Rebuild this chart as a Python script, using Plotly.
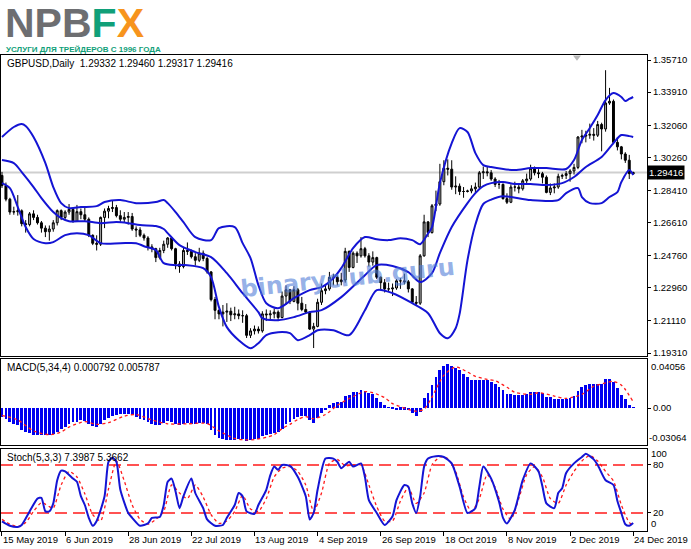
import plotly.graph_objects as go

# ---------------- price data (GBPUSD Daily) ----------------
opens = [1.2925, 1.2868, 1.2792, 1.2720, 1.2722, 1.2727, 1.2655, 1.2650, 1.2710, 1.2690,
         1.2660, 1.2630, 1.2610, 1.2625, 1.2660, 1.2728, 1.2690, 1.2720, 1.2735, 1.2668,
         1.2722, 1.2705, 1.2680, 1.2590, 1.2545, 1.2540, 1.2690, 1.2725, 1.2740, 1.2745,
         1.2700, 1.2680, 1.2690, 1.2695, 1.2625, 1.2620, 1.2590, 1.2575, 1.2525, 1.2515,
         1.2465, 1.2505, 1.2540, 1.2575, 1.2515, 1.2430, 1.2415, 1.2505, 1.2500, 1.2470,
         1.2450, 1.2490, 1.2460, 1.2385, 1.2230, 1.2170, 1.2150, 1.2160, 1.2165, 1.2145,
         1.2150, 1.2140, 1.2140, 1.2030, 1.2055, 1.2065, 1.2055, 1.2150, 1.2145, 1.2150,
         1.2160, 1.2130, 1.2250, 1.2285, 1.2220, 1.2285, 1.2210, 1.2175, 1.2160, 1.2065,
         1.2080, 1.2215, 1.2280, 1.2290, 1.2355, 1.2355, 1.2330, 1.2340, 1.2500, 1.2410,
         1.2490, 1.2475, 1.2515, 1.2475, 1.2440, 1.2465, 1.2355, 1.2325, 1.2290, 1.2290,
         1.2295, 1.2335, 1.2335, 1.2330, 1.2290, 1.2215, 1.2210, 1.2475, 1.2665, 1.2605,
         1.2755, 1.2765, 1.2890, 1.2965, 1.2960, 1.2860, 1.2865, 1.2835, 1.2835, 1.2838,
         1.2850, 1.2860, 1.2940, 1.2945, 1.2940, 1.2905, 1.2875, 1.2875, 1.2795, 1.2775,
         1.2860, 1.2860, 1.2850, 1.2895, 1.2905, 1.2965, 1.2940, 1.2935, 1.2915, 1.2830,
         1.2855, 1.2860, 1.2920, 1.2925, 1.2935, 1.2950, 1.2970, 1.3140, 1.3145, 1.3150,
         1.3155, 1.3150, 1.3210, 1.3185, 1.3330, 1.3340, 1.3110, 1.3085, 1.3045, 1.3010,
         1.29332]
highs = [1.2945, 1.2885, 1.2800, 1.2750, 1.2815, 1.2735, 1.2675, 1.2720, 1.2730, 1.2705,
         1.2670, 1.2645, 1.2645, 1.2675, 1.2735, 1.2735, 1.2730, 1.2765, 1.2740, 1.2760,
         1.2740, 1.2745, 1.2690, 1.2595, 1.2590, 1.2695, 1.2740, 1.2755, 1.2785, 1.2760,
         1.2730, 1.2720, 1.2720, 1.2715, 1.2640, 1.2635, 1.2600, 1.2585, 1.2540, 1.2520,
         1.2520, 1.2560, 1.2580, 1.2580, 1.2520, 1.2445, 1.2520, 1.2550, 1.2510, 1.2490,
         1.2520, 1.2505, 1.2470, 1.2390, 1.2245, 1.2175, 1.2200, 1.2210, 1.2185, 1.2190,
         1.2175, 1.2170, 1.2150, 1.2070, 1.2085, 1.2080, 1.2165, 1.2175, 1.2170, 1.2180,
         1.2170, 1.2275, 1.2310, 1.2290, 1.2305, 1.2295, 1.2245, 1.2205, 1.2165, 1.2100,
         1.2235, 1.2320, 1.2315, 1.2385, 1.2375, 1.2365, 1.2380, 1.2520, 1.2505, 1.2500,
         1.2500, 1.2580, 1.2525, 1.2490, 1.2500, 1.2470, 1.2360, 1.2345, 1.2325, 1.2320,
         1.2345, 1.2350, 1.2375, 1.2340, 1.2295, 1.2250, 1.2485, 1.2705, 1.2670, 1.2765,
         1.2840, 1.2990, 1.3010, 1.3015, 1.3010, 1.2920, 1.2880, 1.2860, 1.2845, 1.2870,
         1.2885, 1.2950, 1.2975, 1.2975, 1.2955, 1.2915, 1.2900, 1.2880, 1.2825, 1.2875,
         1.2890, 1.2880, 1.2905, 1.2935, 1.2985, 1.2975, 1.2960, 1.2945, 1.2925, 1.2880,
         1.2880, 1.2935, 1.2935, 1.2950, 1.2960, 1.2990, 1.3145, 1.3180, 1.3175, 1.3215,
         1.3190, 1.3230, 1.3220, 1.3514, 1.3415, 1.3350, 1.3140, 1.3090, 1.3055, 1.3040,
         1.29460]
lows = [1.2855, 1.2780, 1.2705, 1.2705, 1.2700, 1.2640, 1.2605, 1.2640, 1.2675, 1.2650,
        1.2605, 1.2580, 1.2560, 1.2610, 1.2645, 1.2675, 1.2680, 1.2705, 1.2660, 1.2665,
        1.2680, 1.2665, 1.2580, 1.2535, 1.2505, 1.2530, 1.2630, 1.2685, 1.2720, 1.2690,
        1.2665, 1.2660, 1.2650, 1.2615, 1.2580, 1.2580, 1.2560, 1.2505, 1.2495, 1.2440,
        1.2455, 1.2490, 1.2520, 1.2505, 1.2400, 1.2380, 1.2405, 1.2480, 1.2460, 1.2420,
        1.2440, 1.2445, 1.2375, 1.2220, 1.2120, 1.2120, 1.2080, 1.2105, 1.2110, 1.2120,
        1.2120, 1.2100, 1.2015, 1.2015, 1.2035, 1.2040, 1.2045, 1.2110, 1.2120, 1.2125,
        1.2110, 1.2125, 1.2200, 1.2205, 1.2215, 1.2170, 1.2165, 1.2150, 1.2060, 1.1959,
        1.2075, 1.2200, 1.2260, 1.2280, 1.2310, 1.2310, 1.2310, 1.2325, 1.2385, 1.2405,
        1.2435, 1.2465, 1.2465, 1.2415, 1.2420, 1.2345, 1.2285, 1.2270, 1.2275, 1.2250,
        1.2285, 1.2290, 1.2315, 1.2270, 1.2205, 1.2195, 1.2200, 1.2470, 1.2580, 1.2600,
        1.2725, 1.2755, 1.2870, 1.2925, 1.2845, 1.2820, 1.2815, 1.2800, 1.2830, 1.2825,
        1.2825, 1.2850, 1.2905, 1.2920, 1.2895, 1.2860, 1.2850, 1.2790, 1.2765, 1.2770,
        1.2835, 1.2825, 1.2840, 1.2880, 1.2895, 1.2925, 1.2910, 1.2880, 1.2825, 1.2815,
        1.2825, 1.2850, 1.2905, 1.2905, 1.2890, 1.2930, 1.2960, 1.3105, 1.3110, 1.3130,
        1.3120, 1.3140, 1.3060, 1.3170, 1.3320, 1.3100, 1.3065, 1.3015, 1.2995, 1.2905,
        1.29317]
closes = [1.2868, 1.2792, 1.2720, 1.2722, 1.2727, 1.2655, 1.2650, 1.2710, 1.2690, 1.2660,
          1.2630, 1.2610, 1.2625, 1.2660, 1.2728, 1.2690, 1.2720, 1.2735, 1.2668, 1.2722,
          1.2705, 1.2680, 1.2590, 1.2545, 1.2540, 1.2690, 1.2725, 1.2740, 1.2745, 1.2700,
          1.2680, 1.2690, 1.2695, 1.2625, 1.2620, 1.2590, 1.2575, 1.2525, 1.2515, 1.2465,
          1.2505, 1.2540, 1.2575, 1.2515, 1.2430, 1.2415, 1.2505, 1.2500, 1.2470, 1.2450,
          1.2490, 1.2460, 1.2385, 1.2230, 1.2170, 1.2150, 1.2160, 1.2165, 1.2145, 1.2150,
          1.2140, 1.2140, 1.2030, 1.2055, 1.2065, 1.2055, 1.2150, 1.2145, 1.2150, 1.2160,
          1.2130, 1.2250, 1.2285, 1.2220, 1.2285, 1.2210, 1.2175, 1.2160, 1.2065, 1.2080,
          1.2215, 1.2280, 1.2290, 1.2355, 1.2355, 1.2330, 1.2340, 1.2500, 1.2410, 1.2490,
          1.2475, 1.2515, 1.2475, 1.2440, 1.2465, 1.2355, 1.2325, 1.2290, 1.2290, 1.2295,
          1.2335, 1.2335, 1.2330, 1.2290, 1.2215, 1.2210, 1.2475, 1.2665, 1.2605, 1.2755,
          1.2765, 1.2890, 1.2965, 1.2960, 1.2860, 1.2865, 1.2835, 1.2835, 1.2838, 1.2850,
          1.2860, 1.2940, 1.2945, 1.2940, 1.2905, 1.2875, 1.2875, 1.2795, 1.2775, 1.2860,
          1.2860, 1.2850, 1.2895, 1.2905, 1.2965, 1.2940, 1.2935, 1.2915, 1.2830, 1.2855,
          1.2860, 1.2920, 1.2925, 1.2935, 1.2950, 1.2970, 1.3140, 1.3145, 1.3150, 1.3155,
          1.3150, 1.3210, 1.3185, 1.3330, 1.3340, 1.3110, 1.3085, 1.3045, 1.3010, 1.2935,
          1.29416]

# Bollinger bands (at sample bars)
upper_idx = [0, 3, 5, 6, 8, 11, 13, 15, 17, 20, 24, 26, 30, 34, 39, 41, 42, 44, 46, 49,
             53, 55, 59, 61, 63, 65, 67, 70, 74, 78, 81, 84, 86, 89, 92, 95, 98, 101, 104, 106,
             108, 109, 111, 114, 116, 118, 120, 122, 124, 130, 134, 138, 143, 145, 147, 149,
             151, 153, 155, 157, 158, 159, 160]
upper_val = [1.3140, 1.3196, 1.3213, 1.3202, 1.3140, 1.2994, 1.2860, 1.2770, 1.2742, 1.2748,
             1.2753, 1.2776, 1.2787, 1.2770, 1.2776, 1.2787, 1.2770, 1.2720, 1.2664, 1.2580,
             1.2563, 1.2630, 1.2636, 1.2546, 1.2462, 1.2311, 1.2210, 1.2182, 1.2238, 1.2283,
             1.2300, 1.2350, 1.2406, 1.2518, 1.2580, 1.2568, 1.2563, 1.2574, 1.2563, 1.2540,
             1.2600, 1.2636, 1.2882, 1.3106, 1.3190, 1.3168, 1.3050, 1.2983, 1.2972, 1.2955,
             1.2966, 1.2966, 1.2961, 1.3011, 1.3123, 1.3190, 1.3263, 1.3347, 1.3386, 1.3364,
             1.3341, 1.3353, 1.3364]
mid_idx = [0, 3, 5, 8, 10, 13, 15, 17, 21, 25, 29, 32, 35, 39, 41, 42, 45, 49, 53, 57,
           61, 65, 66, 70, 74, 78, 81, 86, 92, 95, 99, 103, 106, 109, 111, 114, 118, 120, 122, 124,
           127, 130, 134, 138, 142, 145, 148, 152, 155, 157, 159, 160]
mid_val = [1.3011, 1.2994, 1.2944, 1.2860, 1.2798, 1.2720, 1.2686, 1.2669, 1.2669, 1.2658,
           1.2664, 1.2658, 1.2647, 1.2642, 1.2625, 1.2602, 1.2535, 1.2496, 1.2468, 1.2378,
           1.2266, 1.2160, 1.2126, 1.2115, 1.2132, 1.2160, 1.2171, 1.2244, 1.2367, 1.2423,
           1.2418, 1.2384, 1.2328, 1.2378, 1.2490, 1.2636, 1.2770, 1.2826, 1.2865, 1.2882,
           1.2888, 1.2877, 1.2877, 1.2871, 1.2882, 1.2916, 1.2972, 1.3028, 1.3106, 1.3151,
           1.3145, 1.3140]
lower_idx = [0, 2, 4, 6, 8, 11, 13, 16, 19, 22, 25, 30, 34, 36, 39, 41, 44, 47, 51, 53,
             55, 57, 60, 63, 65, 67, 70, 73, 75, 78, 80, 84, 88, 92, 95, 99, 104, 108, 111, 113,
             115, 116, 118, 120, 122, 124, 127, 134, 141, 143, 146, 147, 149, 152, 154, 156, 157,
             159, 160]
lower_val = [1.2882, 1.2854, 1.2748, 1.2636, 1.2569, 1.2546, 1.2552, 1.2591, 1.2602, 1.2591,
             1.2546, 1.2546, 1.2546, 1.2529, 1.2507, 1.2434, 1.2423, 1.2423, 1.2406, 1.2356,
             1.2188, 1.2076, 1.2003, 1.1958, 1.1986, 1.2031, 1.2048, 1.2042, 1.2003, 1.2031,
             1.2059, 1.2059, 1.2031, 1.2171, 1.2283, 1.2266, 1.2210, 1.2154, 1.2042, 1.2014,
             1.2070, 1.2150, 1.2451, 1.2650, 1.2765, 1.2790, 1.2809, 1.2787, 1.2787, 1.2826,
             1.2854, 1.2804, 1.2770, 1.2770, 1.2804, 1.2832, 1.2888, 1.2955, 1.2927]

# MACD(5,34,4): main histogram per bar, signal sampled
macd_main = [-0.0083, -0.0098, -0.0129, -0.0144, -0.0159, -0.0205, -0.0220, -0.0230, -0.0245, -0.0245,
             -0.0251, -0.0251, -0.0245, -0.0236, -0.0220, -0.0190, -0.0174, -0.0144, -0.0129, -0.0129,
             -0.0113, -0.0122, -0.0144, -0.0165, -0.0174, -0.0144, -0.0113, -0.0092, -0.0073, -0.0061,
             -0.0055, -0.0052, -0.0055, -0.0067, -0.0083, -0.0098, -0.0113, -0.0129, -0.0144, -0.0159,
             -0.0153, -0.0138, -0.0122, -0.0129, -0.0150, -0.0159, -0.0144, -0.0138, -0.0144, -0.0150,
             -0.0138, -0.0138, -0.0150, -0.0205, -0.0245, -0.0275, -0.0288, -0.0297, -0.0297, -0.0291,
             -0.0288, -0.0282, -0.0306, -0.0297, -0.0288, -0.0282, -0.0257, -0.0245, -0.0236, -0.0226,
             -0.0220, -0.0190, -0.0150, -0.0125, -0.0100, -0.0085, -0.0075, -0.0070, -0.0110, -0.0136,
             -0.0095, -0.0043, -0.0020, 0.0025, 0.0046, 0.0055, 0.0055, 0.0110, 0.0116, 0.0147,
             0.0147, 0.0162, 0.0153, 0.0140, 0.0131, 0.0092, 0.0055, 0.0024, 0.0009, -0.0006,
             -0.0020, -0.0015, -0.0015, -0.0020, -0.0043, -0.0076, -0.0037, 0.0092, 0.0138, 0.0214,
             0.0285, 0.0346, 0.0383, 0.0406, 0.0383, 0.0370, 0.0346, 0.0309, 0.0285, 0.0260,
             0.0254, 0.0260, 0.0260, 0.0260, 0.0239, 0.0223, 0.0193, 0.0162, 0.0125, 0.0125,
             0.0122, 0.0122, 0.0116, 0.0125, 0.0147, 0.0147, 0.0147, 0.0138, 0.0101, 0.0101,
             0.0086, 0.0086, 0.0086, 0.0086, 0.0092, 0.0110, 0.0156, 0.0193, 0.0214, 0.0217,
             0.0217, 0.0223, 0.0223, 0.0263, 0.0270, 0.0239, 0.0184, 0.0116, 0.0086, 0.0031,
             0.0008]
macd_sig_idx = [0, 4, 8, 12, 15, 17, 21, 24, 27, 31, 34, 38, 42, 47, 52, 55, 59, 62, 64, 67,
                69, 71, 73, 75, 77, 79, 82, 85, 88, 92, 94, 97, 99, 103, 105, 107, 109, 112, 115, 118,
                120, 123, 125, 128, 130, 134, 136, 140, 143, 147, 150, 153, 155, 157, 158, 160]
macd_sig_val = [-0.0067, -0.0110, -0.0210, -0.0245, -0.0220, -0.0175, -0.0125, -0.0150, -0.0135, -0.0075,
                -0.0060, -0.0110, -0.0145, -0.0145, -0.0143, -0.0210, -0.0280, -0.0292, -0.0290, -0.0270,
                -0.0245, -0.0190, -0.0150, -0.0105, -0.0080, -0.0098, -0.0060, 0.0024, 0.0086, 0.0150,
                0.0140, 0.0095, 0.0040, -0.0012, -0.0030, -0.0010, 0.0100, 0.0300, 0.0376, 0.0330,
                0.0290, 0.0262, 0.0250, 0.0190, 0.0145, 0.0125, 0.0140, 0.0110, 0.0088, 0.0125,
                0.0200, 0.0230, 0.0245, 0.0210, 0.0170, 0.0058]

# Stochastic(5,3,3)
stoch_idx = [0, 2, 4, 5, 7, 9, 10, 11, 12, 13, 14, 15, 16, 18, 19, 20, 21, 22, 23, 24,
             26, 27, 28, 29, 30, 32, 33, 35, 37, 38, 40, 41, 42, 43, 44, 45, 46, 48, 49, 51,
             52, 54, 56, 57, 59, 60, 61, 62, 64, 65, 67, 68, 69, 70, 71, 73, 75, 77, 78, 79,
             80, 82, 84, 85, 86, 87, 88, 89, 91, 92, 93, 95, 97, 99, 100, 102, 103, 104, 105, 106,
             107, 108, 110, 112, 114, 116, 118, 120, 121, 122, 124, 126, 127, 128, 130, 132, 134, 136,
             137, 138, 140, 141, 142, 143, 145, 147, 148, 150, 151, 153, 155, 156, 157, 158, 159, 160]
stoch_main = [9.5, 4, 2.5, 5, 22, 38, 39, 22, 22, 32, 61, 73, 72, 63, 59, 41, 30, 14, 4, 10,
              41, 84, 89, 84, 49, 20, 14, 4, 7, 14, 15, 30, 59, 63, 47, 26, 41, 63, 45, 26,
              12, 4, 5, 14, 30, 45, 41, 22, 19, 30, 49, 67, 78, 74, 80, 79, 65, 41, 12, 20,
              49, 88, 88, 84, 76, 80, 84, 78, 82, 65, 36, 20, 5, 16, 36, 55, 53, 32, 20, 41,
              78, 88, 91, 90, 82, 53, 20, 26, 53, 78, 63, 34, 14, 7, 24, 61, 82, 72,
              53, 32, 26, 45, 51, 70, 82, 90, 94, 87, 80, 61, 55, 35, 20, 6, 4, 7.3987]
stoch_sig_idx = [0, 2, 4, 6, 8, 10, 12, 13, 15, 17, 19, 21, 23, 25, 27, 29, 31, 33, 35, 37,
                 39, 41, 43, 45, 47, 49, 51, 53, 55, 57, 59, 61, 63, 65, 67, 69, 71, 73, 75, 77,
                 79, 81, 83, 85, 87, 89, 91, 93, 95, 97, 99, 101, 103, 105, 107, 109, 111, 113, 115, 117,
                 119, 121, 123, 125, 127, 129, 131, 133, 135, 137, 139, 141, 143, 145, 147, 149, 151, 153,
                 155, 157, 159, 160]
stoch_sig = [12, 6, 3, 8, 22, 33, 28, 26, 55, 72, 65, 44, 18, 10, 50, 85, 60, 30, 12, 6,
             12, 22, 55, 45, 38, 55, 40, 18, 7, 10, 22, 42, 25, 22, 38, 65, 76, 78, 72, 55,
             22, 45, 82, 87, 79, 80, 80, 55, 28, 10, 10, 35, 52, 32, 45, 80, 90, 88, 72, 40,
             22, 38, 68, 52, 25, 12, 38, 68, 78, 65, 38, 32, 55, 72, 85, 92, 85, 72,
             60, 30, 8, 5.3662]

# axis tick labels
price_ticks = [1.35710, 1.33910, 1.32060, 1.30260, 1.28410, 1.26610, 1.24760, 1.22960, 1.21110, 1.19310]
date_tick_idx = [0, 16, 32, 48, 64, 80, 96, 112, 128, 144, 160]
date_labels = ["15 May 2019", "6 Jun 2019", "28 Jun 2019", "22 Jul 2019", "13 Aug 2019", "4 Sep 2019",
               "26 Sep 2019", "18 Oct 2019", "8 Nov 2019", "2 Dec 2019", "24 Dec 2019"]

# ---------------- styling ----------------
FONT = "Liberation Sans, Arial, sans-serif"
BLUE = "#1414d4"
RED = "#ff1a1a"
FS = 9.5
x_idx = list(range(len(closes)))

fig = go.Figure()

fig.add_trace(go.Candlestick(
    x=x_idx, open=opens, high=highs, low=lows, close=closes,
    increasing=dict(line=dict(color="black", width=1), fillcolor="#b4b4b4"),
    decreasing=dict(line=dict(color="black", width=1), fillcolor="black"),
    whiskerwidth=0, xaxis="x", yaxis="y", showlegend=False, hoverinfo="skip"))

for ix, vals in ((upper_idx, upper_val), (mid_idx, mid_val), (lower_idx, lower_val)):
    fig.add_trace(go.Scatter(x=ix, y=vals, mode="lines", xaxis="x", yaxis="y",
                             line=dict(color=BLUE, width=2, shape="spline", smoothing=0.8),
                             showlegend=False, hoverinfo="skip"))

fig.add_trace(go.Bar(x=x_idx, y=macd_main, xaxis="x2", yaxis="y2", width=0.72,
                     marker=dict(color="#0000f0", line=dict(width=0)),
                     showlegend=False, hoverinfo="skip"))
fig.add_trace(go.Scatter(x=macd_sig_idx, y=macd_sig_val, mode="lines", xaxis="x2", yaxis="y2",
                         line=dict(color=RED, width=1.3, dash="dot", shape="spline", smoothing=0.8),
                         showlegend=False, hoverinfo="skip"))

fig.add_trace(go.Scatter(x=stoch_sig_idx, y=stoch_sig, mode="lines", xaxis="x3", yaxis="y3",
                         line=dict(color=RED, width=1.3, dash="dot", shape="spline", smoothing=0.6),
                         showlegend=False, hoverinfo="skip"))
fig.add_trace(go.Scatter(x=stoch_idx, y=stoch_main, mode="lines", xaxis="x3", yaxis="y3",
                         line=dict(color=BLUE, width=2, shape="spline", smoothing=0.6),
                         showlegend=False, hoverinfo="skip"))

XR = [-0.25, 163.5]
ax_common = dict(showgrid=False, zeroline=False, showline=True, mirror=True,
                 linecolor="black", linewidth=1, range=XR)
yax_common = dict(showgrid=False, zeroline=False, showline=True, mirror=True,
                  linecolor="black", linewidth=1, side="right", ticks="outside",
                  ticklen=3, tickcolor="black", tickfont=dict(family=FONT, size=FS, color="black"))

fig.update_layout(
    width=691, height=549,
    margin=dict(l=1, r=44, t=55, b=18),
    paper_bgcolor="white", plot_bgcolor="white",
    bargap=0,
    xaxis=dict(ax_common, anchor="y", domain=[0, 1], showticklabels=False,
               rangeslider=dict(visible=False)),
    xaxis2=dict(ax_common, anchor="y2", matches="x", showticklabels=False),
    xaxis3=dict(ax_common, anchor="y3", matches="x", showticklabels=False,
                tickvals=date_tick_idx, ticks="outside", ticklen=4, tickcolor="black"),
    yaxis=dict(yax_common, domain=[0.3676, 1.0], range=[1.19143, 1.35990],
               tickvals=price_ticks, ticktext=["%.5f" % v for v in price_ticks]),
    yaxis2=dict(yax_common, domain=[0.1807, 0.3613], range=[-0.03397, 0.04498],
                tickvals=[0.0], ticktext=["0.00"]),
    yaxis3=dict(yax_common, domain=[0.0, 0.1723], range=[-2.5, 100],
                tickvals=[20, 80], ticktext=["20", "80"]),
)

# current price line
fig.add_shape(type="line", xref="x domain", yref="y", x0=0, x1=1, y0=closes[-1], y1=closes[-1],
              line=dict(color="#cfcfcf", width=2), layer="below")
# stochastic levels
for lvl in (20, 80):
    fig.add_shape(type="line", xref="x3 domain", yref="y3", x0=0, x1=1, y0=lvl, y1=lvl,
                  line=dict(color=RED, width=1.5, dash="12px,6px"), layer="below")
# chart-shift marker
fig.add_shape(type="path", xref="paper", yref="paper",
              path="M 0.8854 0.999 L 0.8978 0.999 L 0.8916 0.988 Z",
              fillcolor="#b8b8b8", line=dict(width=0))

ann = []
ann.append(dict(xref="paper", yref="paper", x=0.004, y=1.0, xanchor="left", yanchor="middle",
                yshift=32, borderpad=0,
                text="<b><span style='color:#6d6e71'>NPB</span><span style='color:#10a079'>F</span>"
                     "<span style='color:#f7941d'>X</span></b>",
                font=dict(family=FONT, size=41), showarrow=False))
ann.append(dict(xref="paper", yref="paper", x=0.006, y=1.0, xanchor="left", yanchor="bottom",
                yshift=0, borderpad=0, text="<b>УСЛУГИ ДЛЯ ТРЕЙДЕРОВ С 1996 ГОДА</b>",
                font=dict(family=FONT, size=8, color="#10a079"), showarrow=False))
ann.append(dict(xref="paper", yref="y domain", x=0.006, y=1, xanchor="left", yanchor="top", yshift=-1,
                text="GBPUSD,Daily  1.29332 1.29460 1.29317 1.29416",
                font=dict(family=FONT, size=10, color="black"), showarrow=False))
ann.append(dict(xref="paper", yref="y2 domain", x=0.006, y=1, xanchor="left", yanchor="top", yshift=-1,
                text="MACD(5,34,4) 0.000792 0.005787",
                font=dict(family=FONT, size=10, color="black"), showarrow=False))
ann.append(dict(xref="paper", yref="y3 domain", x=0.006, y=1, xanchor="left", yanchor="top", yshift=-1,
                text="Stoch(5,3,3) 7.3987 5.3662",
                font=dict(family=FONT, size=10, color="black"), showarrow=False))
# current price box
ann.append(dict(xref="paper", yref="y", x=1, y=closes[-1], xanchor="left", yanchor="middle",
                text="1.29416", bgcolor="black", font=dict(family=FONT, size=FS, color="white"),
                borderpad=1, showarrow=False))
# sub-window extreme labels
ann.append(dict(xref="paper", yref="y2 domain", x=1, y=1, xanchor="left", yanchor="top", xshift=2,
                text="0.04056", font=dict(family=FONT, size=FS, color="black"), showarrow=False))
ann.append(dict(xref="paper", yref="y2 domain", x=1, y=0, xanchor="left", yanchor="bottom", xshift=0,
                text="-0.03064", font=dict(family=FONT, size=FS, color="black"), showarrow=False))
ann.append(dict(xref="paper", yref="y3 domain", x=1, y=1, xanchor="left", yanchor="top", xshift=2,
                yshift=3, text="100", font=dict(family=FONT, size=FS, color="black"), showarrow=False))
ann.append(dict(xref="paper", yref="y3 domain", x=1, y=0, xanchor="left", yanchor="bottom", xshift=2,
                text="0", font=dict(family=FONT, size=FS, color="black"), showarrow=False))
# date labels
for xi, lab in zip(date_tick_idx, date_labels):
    ann.append(dict(xref="x3", yref="y3 domain", x=xi, y=0, xanchor="left", yanchor="top",
                    yshift=-1, xshift=-1, text=lab, font=dict(family=FONT, size=FS, color="black"),
                    showarrow=False))
# watermark
ann.append(dict(xref="paper", yref="paper", x=0.537, y=0.532, xanchor="center", yanchor="middle",
                text="<b>binaryclub.guru</b>", textangle=-6,
                font=dict(family="DejaVu Sans, Verdana", size=24, color="rgba(80,125,215,0.6)"),
                showarrow=False))
fig.update_layout(annotations=ann)

fig.write_html("out.html", config={"displayModeBar": False},
               post_script="document.body.style.margin='0px';")
